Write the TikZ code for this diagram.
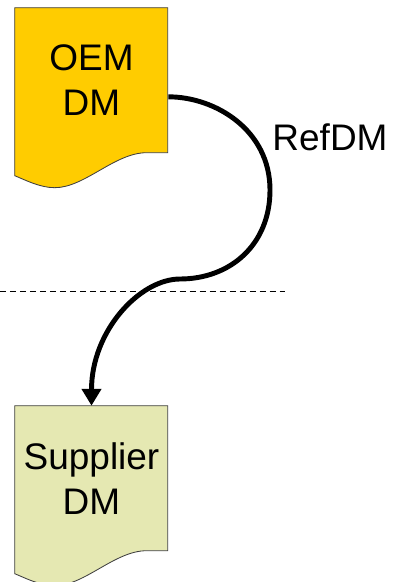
\documentclass[tikz,border=0pt]{standalone}
\usepackage{fontspec}
\setmainfont{Liberation Sans}
\usetikzlibrary{arrows.meta,backgrounds}
\definecolor{oemfill}{RGB}{255,204,0}
\definecolor{supfill}{RGB}{229,232,178}
\definecolor{edge}{RGB}{64,64,64}
\begin{document}
\begin{tikzpicture}[x=0.025cm,y=-0.025cm]

    \tikzset{
      docbox/.style={
        inner sep=0pt,
        minimum width=3.825cm,
        minimum height=3.625cm,
        align=center,
        font=\fontsize{26.3}{32}\selectfont,
      },
      conn/.style={
        line width=3.5pt,
        -{Triangle[length=12pt,width=13.5pt]},
      },
    }
    \useasboundingbox (0,0) rectangle (393,582);
    \clip (0,0) rectangle (393,582);
	\node[docbox] (oem) at (91.5,80.5) {OEM\\DM};
	\node[docbox] (sup) at (91.5,478.5) {Supplier\\DM};
	\node[font=\fontsize{26.3}{32}\selectfont] (ref) at (330,137) {RefDM};
	\begin{scope}[on background layer]
	\foreach \n/\c in {oem/oemfill,sup/supfill}
	  \draw[edge,line width=0.6pt,fill=\c,shift={(\n.north west)}] (0,0) -- (153,0) -- (153,145) -- (132,145) .. controls (100,145) and (70,180) .. (40,180) .. controls (25,180) and (10,172) .. (0,168) -- cycle;
	\end{scope}
	\coordinate (cut) at (0,291);
	\coordinate (cutend) at (285,291);
	\draw[line width=0.6pt,dash pattern=on 4.3pt off 2.8pt] (cut) -- (cutend);
	\coordinate (bend1) at (270,190);
	\coordinate (bend2) at (180,279);
	\draw[conn] (oem.-12) .. controls +(47,0) and +(0,-60) .. (bend1) .. controls +(0,55) and +(50,0) .. (bend2) .. controls +(-40,0) and +(0,-75) .. (sup.north);

\end{tikzpicture}
\end{document}
